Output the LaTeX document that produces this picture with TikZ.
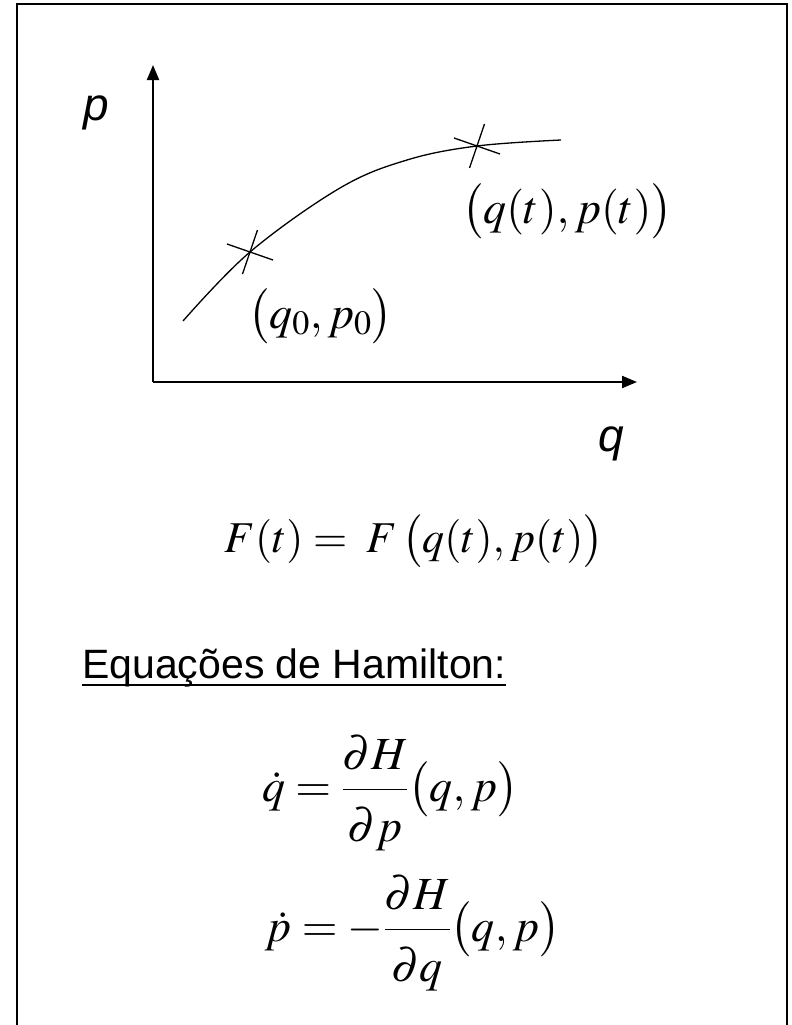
\documentclass[tikz,border=0pt]{standalone}
\usepackage{mathptmx}
\usepackage[no-math]{fontspec}
\setmainfont{Liberation Serif}
\setsansfont{Liberation Sans}
\usepackage{tikz}
\usetikzlibrary{arrows.meta}
\newcommand{\numst}{\rule[-0.3em]{0pt}{0pt}}
\newcommand{\denst}{\rule{0pt}{1em}}
\tikzset{
  axis/.style={-{Triangle[length=15pt,width=12pt]},line width=2pt},
  traj/.style={line width=1.3pt},
  mk/.style={line width=1.3pt},
  mth/.style={font=\fontsize{46}{54}\selectfont,inner sep=0pt},
  lbl/.style={font=\fontsize{46}{54}\selectfont\sffamily\itshape,inner sep=0pt},
  ttl/.style={font=\fontsize{41}{48}\selectfont\sffamily,inner sep=0pt}
}

\begin{document}
\begin{tikzpicture}[x=1pt,y=-1pt]
\useasboundingbox (0,0) rectangle (792,1025);
\draw[line width=2pt] (17,1025) -- (17,4) -- (787,4) -- (787,1025);
% phase plane
\coordinate (O) at (153,382);
\coordinate (ytip) at (153,65);
\coordinate (xtip) at (637,382);
\draw[axis] (O) -- (ytip);
\draw[axis] (O) -- (xtip);
\node[lbl,anchor=base] (plbl) at (96,120) {p};
\node[lbl,anchor=base] (qlbl) at (611,451) {q};
\draw[traj] plot[smooth,tension=0.6] coordinates {(183,321) (250,252) (340,188) (407,160) (477,146) (561,140)};
\coordinate (m0) at (250,252);
\coordinate (mt) at (477,146);
\foreach \c in {m0,mt}
  \draw[mk,shift={(\c)}] (-23,-8) -- (23,8) (7.5,-22) -- (-7.5,22);
\node[mth,anchor=base west] (lblt) at (462,223) {$\bigl(q(t), p(t)\bigr)$};
\node[mth,anchor=base west] (lbl0) at (248,328) {$\bigl(q_0, p_0\bigr)$};
% equations
\node[mth,font=\fontsize{44}{52}\selectfont,anchor=base] (Ft) at (414,552) {$F(t) =\; F\,\bigl(q(t), p(t)\bigr)$};
\node[ttl,anchor=base west] (eqh) at (82,678) {Equações de Hamilton:};
\draw[line width=2.5pt] ([yshift=-7pt]eqh.base west) -- ([yshift=-7pt]eqh.base east);
\node[mth,anchor=base west] (eqq) at (262,801) {$\displaystyle \dot q = \frac{\numst\partial H}{\denst\partial p}\bigl(q, p\bigr)$};
\node[mth,anchor=base west] (eqp) at (265,941) {$\displaystyle \dot p = -\frac{\numst\partial H}{\denst\partial q}\bigl(q, p\bigr)$};
\end{tikzpicture}
\end{document}
